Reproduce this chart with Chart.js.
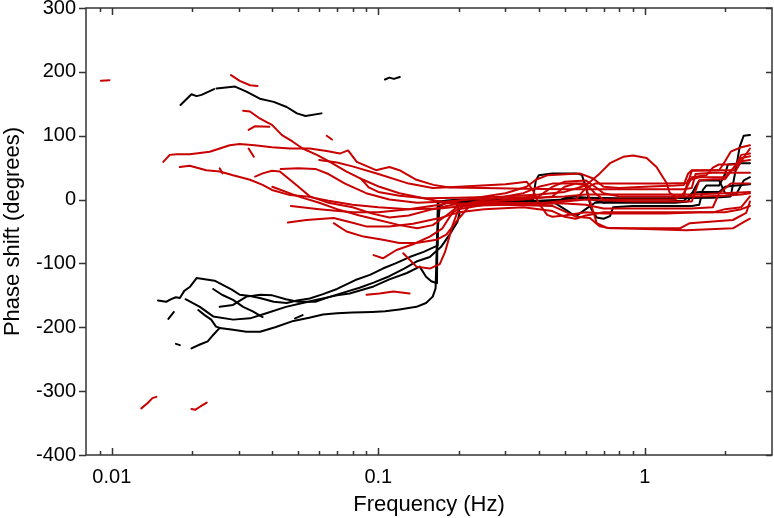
<!DOCTYPE html>
<html>
<head>
<meta charset="utf-8">
<script src="https://cdn.jsdelivr.net/npm/chart.js@4"></script>
<style>
  html, body { margin: 0; padding: 0; background: #fff; }
  #wrap { width: 774px; height: 518px; }
</style>
</head>
<body>
<div id="wrap"><canvas id="phaseChart" width="774" height="518"></canvas></div>
<script>
// axis ticks
const freqTicks = [0.01, 0.1, 1];
const freqMinorTicks = [0.009, 0.02, 0.03, 0.04, 0.05, 0.06, 0.07, 0.08, 0.09,
  0.2, 0.3, 0.4, 0.5, 0.6, 0.7, 0.8, 0.9, 2];
const phaseTicks = [-400, -300, -200, -100, 0, 100, 200, 300];

// black traces: [frequency Hz, phase deg]
const blackTopA = [[0.0181,148],[0.0199,165],[0.0208,162],[0.0217,164],[0.0242,173]];
const blackTopB = [[0.0247,174],[0.0290,177],[0.0320,169],[0.0359,158],[0.0405,153],[0.0453,145],[0.0495,135],[0.0533,131],[0.0612,135]];
const blackTopC = [[0.1059,188],[0.110,191],[0.1144,189],[0.1204,192]];
const blackDashA = [[0.0163,-187],[0.0171,-176]];
const blackDashB = [[0.0174,-226],[0.0180,-228]];
const blackDashC = [[0.0487,-186],[0.052,-181]];
const black1 = [[0.0149,-158],[0.0160,-160],[0.0167,-156],[0.0174,-153],[0.0180,-154],[0.0187,-143],[0.0196,-137],[0.0208,-123],[0.0217,-124],[0.0243,-127],[0.0265,-135],[0.0282,-141],[0.0302,-149],[0.0330,-151],[0.0359,-154],[0.0405,-160],[0.0453,-162],[0.0495,-158],[0.0553,-155],[0.062,-148],[0.070,-140],[0.082,-126],[0.093,-118],[0.104,-108],[0.116,-100],[0.131,-90],[0.148,-82],[0.161,-75],[0.167,-72],[0.168,-3],[0.2,0],[0.3,0],[0.38,0],[0.39,30],[0.40,38],[0.45,41],[0.55,41],[0.58,39],[0.60,20],[0.63,-15],[0.66,-28],[0.70,-30],[0.74,-26],[0.76,-12],[0.9,-10],[1.2,-10],[1.5,-10],[1.6,-8],[1.65,15],[1.7,22],[1.9,22],[2.0,40],[2.05,55],[2.3,57],[2.48,57]];
const black2 = [[0.0189,-156],[0.0214,-168],[0.024,-183],[0.0285,-188],[0.033,-186],[0.038,-178],[0.045,-168],[0.052,-162],[0.060,-156],[0.070,-150],[0.078,-147],[0.096,-136],[0.110,-125],[0.128,-115],[0.143,-105],[0.151,-121],[0.158,-128],[0.166,-131],[0.167,-5],[0.18,-2],[0.25,-2],[0.4,-2],[0.5,0],[0.6,3],[0.8,2],[1.2,2],[1.8,3],[2.1,5],[2.2,50],[2.27,83],[2.35,100],[2.48,101]];
const black3 = [[0.0199,-233],[0.0214,-227],[0.0229,-222],[0.024,-212],[0.0254,-201],[0.0285,-204],[0.032,-207],[0.036,-207],[0.041,-200],[0.048,-190],[0.055,-185],[0.062,-180],[0.070,-178],[0.080,-177],[0.095,-176],[0.106,-175],[0.120,-172],[0.139,-168],[0.151,-162],[0.160,-152],[0.164,-139],[0.166,-60],[0.170,-10],[0.18,-5],[0.35,-5],[0.45,-6],[0.5,2],[0.55,5],[0.6,3],[0.7,-5],[0.9,-5],[1.3,-5],[1.45,-3],[1.55,20],[1.6,30],[1.9,30],[2.0,10],[2.2,8],[2.35,30],[2.48,35]];
const black4 = [[0.024,-140],[0.0259,-149],[0.0285,-157],[0.0311,-168],[0.0338,-175],[0.0368,-184]];
const black5 = [[0.0254,-168],[0.0285,-165],[0.032,-152],[0.036,-149],[0.040,-150],[0.045,-156],[0.050,-160],[0.058,-160],[0.066,-152],[0.075,-145],[0.085,-138],[0.096,-130],[0.110,-120],[0.125,-108],[0.139,-97],[0.156,-90],[0.172,-74],[0.185,-55],[0.198,-35],[0.202,-20],[0.196,-5],[0.21,-2],[0.3,-3],[0.45,-3],[0.5,-15],[0.53,-22],[0.56,-24],[0.6,-15],[0.65,-5],[0.8,-3],[1.2,-3],[1.4,-2],[1.5,10],[1.6,12],[1.9,12],[2.0,20],[2.2,22],[2.48,24]];
const black6 = [[0.0211,-173],[0.0223,-181],[0.0236,-188],[0.0246,-199],[0.0254,-201]];

// red traces
const redDashA = [[0.0091,186],[0.0098,187]];
const redDashB = [[0.0129,-327],[0.0136,-319],[0.0142,-311],[0.0147,-309]];
const redDashC = [[0.0199,-328],[0.0206,-329],[0.0215,-324],[0.0227,-318]];
const redTop = [[0.0280,195],[0.0302,186],[0.0330,179],[0.0352,178]];
const redShortA = [[0.0326,109],[0.0345,115],[0.0390,114]];
const redDashD = [[0.0326,80],[0.0341,67]];
const redDashE = [[0.064,100],[0.067,94]];
const redDashF = [[0.0254,49],[0.0260,41]];
const redLow = [[0.0903,-149],[0.101,-147],[0.114,-144],[0.131,-147]];
const red1 = [[0.0156,59],[0.0165,70],[0.0175,71],[0.0196,71],[0.0214,73],[0.0233,75],[0.0254,80],[0.0277,85],[0.0302,87],[0.0343,85],[0.0399,82],[0.0466,80],[0.0553,80],[0.064,76],[0.0717,72],[0.077,77],[0.083,59],[0.098,46],[0.110,51],[0.120,46],[0.139,31],[0.161,23],[0.185,19],[0.25,18],[0.35,17],[0.5,16],[0.7,16],[1.0,16],[1.4,16],[1.5,18],[1.55,40],[1.8,42],[2.2,42],[2.48,42]];
const red2 = [[0.0311,139],[0.033,138],[0.0359,127],[0.0378,122],[0.0399,117],[0.0435,101],[0.0476,91],[0.052,80],[0.0588,70],[0.0658,59],[0.0757,44],[0.0877,31],[0.101,20],[0.120,10],[0.148,2],[0.170,-3],[0.202,-6],[0.3,-5],[0.5,-6],[0.6,-8],[0.7,-14],[1.0,-14],[1.5,-14],[1.8,-12],[1.9,10],[2.1,25],[2.48,25]];
const red3 = [[0.018,51],[0.0196,53],[0.0226,46],[0.0254,44],[0.0285,38],[0.033,31],[0.0368,23],[0.0399,15],[0.0466,7],[0.0537,5],[0.065,-2],[0.08,-8],[0.1,-12],[0.13,-15],[0.17,-14],[0.21,-10],[0.3,-8],[0.4,-8],[0.5,-3],[0.6,0],[0.9,-3],[1.3,-3],[1.5,-3],[1.6,30],[1.8,32],[2.0,32],[2.2,55],[2.3,70],[2.48,72]];
const red4 = [[0.0345,36],[0.0368,41],[0.0399,45],[0.0427,44],[0.0466,31],[0.0508,18],[0.0553,5],[0.065,-5],[0.08,-12],[0.095,-22],[0.11,-28],[0.13,-25],[0.16,-15],[0.19,-8],[0.25,-6],[0.4,-6],[0.55,0],[0.6,18],[0.65,25],[0.9,25],[1.2,25],[1.45,26],[1.5,45],[1.9,46],[2.0,60],[2.1,75],[2.3,82],[2.48,85]];
const red5 = [[0.043,48],[0.050,49],[0.058,48],[0.065,40],[0.075,25],[0.09,10],[0.11,0],[0.14,-5],[0.18,-3],[0.22,0],[0.3,2],[0.4,5],[0.45,20],[0.5,28],[0.6,30],[0.65,20],[0.7,10],[0.8,5],[1.2,5],[1.4,5],[1.45,30],[1.6,35],[2.0,35],[2.1,45],[2.3,60],[2.48,62]];
const red6 = [[0.0458,-36],[0.0537,-32],[0.068,-29],[0.078,-35],[0.09,-42],[0.11,-42],[0.135,-38],[0.17,-29],[0.2,-20],[0.25,-15],[0.35,-12],[0.45,-18],[0.5,-27],[0.55,-30],[0.6,-25],[0.7,-20],[1.0,-20],[1.5,-20],[1.8,-20],[2.0,-15],[2.3,-12],[2.48,5]];
const red7 = [[0.068,-37],[0.076,-50],[0.088,-58],[0.104,-63],[0.120,-68],[0.139,-68],[0.165,-63],[0.18,-55],[0.2,-30],[0.22,-10],[0.3,0],[0.4,3],[0.5,5],[0.6,8],[0.8,8],[1.0,8],[1.5,8],[2.0,10],[2.48,12]];
const red8 = [[0.096,-87],[0.104,-92],[0.117,-79],[0.135,-70],[0.156,-58],[0.174,-45],[0.19,-20],[0.22,-5],[0.3,5],[0.35,10],[0.4,20],[0.45,25],[0.55,25],[0.6,22],[0.62,0],[0.66,-37],[0.718,-44],[1.0,-46],[1.43,-48],[2.14,-45],[2.40,-33],[2.48,-30]];
const red9 = [[0.124,-84],[0.139,-105],[0.156,-108],[0.170,-101],[0.178,-82],[0.19,-40],[0.2,-15],[0.25,-8],[0.3,-8],[0.45,-10],[0.554,-27],[0.622,-29],[0.678,-42],[0.74,-45],[1.353,-45],[1.475,-37],[1.70,-35],[2.14,-32],[2.40,-21],[2.48,-3]];
const red10 = [[0.04,20],[0.05,5],[0.06,-5],[0.07,-15],[0.085,-25],[0.1,-32],[0.12,-40],[0.14,-45],[0.16,-40],[0.18,-25],[0.2,-10],[0.25,-3],[0.35,0],[0.45,5],[0.5,20],[0.55,25],[0.6,25],[0.65,10],[0.7,0],[1.0,0],[1.3,0],[1.4,10],[1.5,35],[1.7,38],[1.8,50],[1.9,55],[2.2,55],[2.3,65],[2.48,68]];
const red11 = [[0.086,33],[0.092,19],[0.10,12],[0.12,6],[0.15,2],[0.2,3],[0.3,5],[0.4,8],[0.5,12],[0.6,22],[0.678,41],[0.74,57],[0.83,67],[0.904,69],[1.015,65],[1.106,51],[1.206,26],[1.241,10],[1.3,5],[1.6,5],[2.0,6],[2.3,8],[2.48,10]];
const red12 = [[0.06,62],[0.07,58],[0.08,52],[0.1,40],[0.13,25],[0.16,18],[0.2,20],[0.3,24],[0.33,26],[0.36,28],[0.38,15],[0.40,-6],[0.43,-24],[0.45,-27],[0.5,-25],[0.6,-20],[0.7,-22],[0.9,-22],[1.2,-22],[1.6,-20],[2.0,-20],[2.3,-15],[2.48,-10]];
const red13 = [[0.047,-10],[0.06,-15],[0.08,-20],[0.1,-20],[0.13,-15],[0.17,-8],[0.2,-2],[0.25,5],[0.3,10],[0.36,20],[0.39,31],[0.43,38],[0.57,41],[0.64,33],[0.7,20],[0.8,18],[1.0,20],[1.3,22],[1.4,23],[1.45,40],[1.5,46],[2.0,46],[2.2,46],[2.3,60],[2.48,80]];

const blackTraces = [blackTopA, blackTopB, blackTopC, blackDashA, blackDashB, blackDashC,
  black1, black2, black3, black4, black5, black6];
const redTraces = [redDashA, redDashB, redDashC, redTop, redShortA, redDashD, redDashE, redDashF, redLow,
  red1, red2, red3, red4, red5, red6, red7, red8, red9, red10, red11, red12, red13];

const RED = "#c80000";
const BLACK = "#000000";
const FONT = "'Liberation Sans', Arial, sans-serif";

function toDataset(trace, color, order) {
  return {
    data: trace.map(p => ({ x: p[0], y: p[1] })),
    showLine: true,
    borderColor: color,
    borderWidth: 2,
    borderJoinStyle: "round",
    borderCapStyle: "round",
    pointRadius: 0,
    tension: 0,
    order: order
  };
}

const datasets = redTraces.map(t => toDataset(t, RED, 0))
  .concat(blackTraces.map(t => toDataset(t, BLACK, 1)));

// frame plus inward tick marks on bottom/top/right, outward on left
const frameTicks = {
  id: "frameTicks",
  afterDraw(chart) {
    const { ctx, chartArea: a, scales } = chart;
    const x = scales.x, y = scales.y;
    ctx.save();
    ctx.strokeStyle = "#333";
    ctx.lineWidth = 1.5;
    ctx.strokeRect(a.left, a.top, a.right - a.left, a.bottom - a.top);
    ctx.beginPath();
    freqTicks.forEach(v => {
      const px = Math.round(x.getPixelForValue(v)) + 0.5;
      ctx.moveTo(px, a.bottom); ctx.lineTo(px, a.bottom - 7);
      ctx.moveTo(px, a.top); ctx.lineTo(px, a.top + 7);
    });
    freqMinorTicks.forEach(v => {
      const px = Math.round(x.getPixelForValue(v)) + 0.5;
      ctx.moveTo(px, a.bottom); ctx.lineTo(px, a.bottom - 4);
      ctx.moveTo(px, a.top); ctx.lineTo(px, a.top + 4);
    });
    phaseTicks.forEach(v => {
      const py = Math.round(y.getPixelForValue(v)) + 0.5;
      ctx.moveTo(a.left - 7, py); ctx.lineTo(a.left, py);
      ctx.moveTo(a.right, py); ctx.lineTo(a.right - 6, py);
    });
    ctx.stroke();
    ctx.restore();
  }
};

new Chart(document.getElementById("phaseChart"), {
  type: "scatter",
  data: { datasets: datasets },
  options: {
    responsive: false,
    animation: false,
    layout: { autoPadding: false, padding: { top: 8, right: 2, left: 0, bottom: 0 } },
    plugins: { legend: { display: false }, tooltip: { enabled: false } },
    scales: {
      x: {
        type: "logarithmic",
        min: 0.008,
        max: 3,
        afterBuildTicks: scale => { scale.ticks = freqTicks.map(v => ({ value: v })); },
        afterFit: scale => { scale.height = 63; scale.paddingLeft = 0; scale.paddingRight = 0; },
        grid: { display: false, drawTicks: false },
        border: { display: false },
        ticks: {
          autoSkip: false,
          maxRotation: 0,
          padding: 10,
          color: "#000",
          font: { family: FONT, size: 20 },
          callback: v => String(v)
        },
        title: {
          display: true,
          text: "Frequency (Hz)",
          color: "#000",
          font: { family: FONT, size: 22 },
          padding: { top: 0, bottom: 0 }
        }
      },
      y: {
        min: -400,
        max: 300,
        afterBuildTicks: scale => { scale.ticks = phaseTicks.map(v => ({ value: v })); },
        afterFit: scale => { scale.width = 86; scale.paddingTop = 0; scale.paddingBottom = 0; },
        grid: { display: false, drawTicks: false },
        border: { display: false },
        ticks: {
          padding: 10,
          color: "#000",
          font: { family: FONT, size: 20 }
        },
        title: {
          display: true,
          text: "Phase shift (degrees)",
          color: "#000",
          font: { family: FONT, size: 22 },
          padding: { top: 0, bottom: 0 }
        }
      }
    }
  },
  plugins: [frameTicks]
});
</script>
</body>
</html>
